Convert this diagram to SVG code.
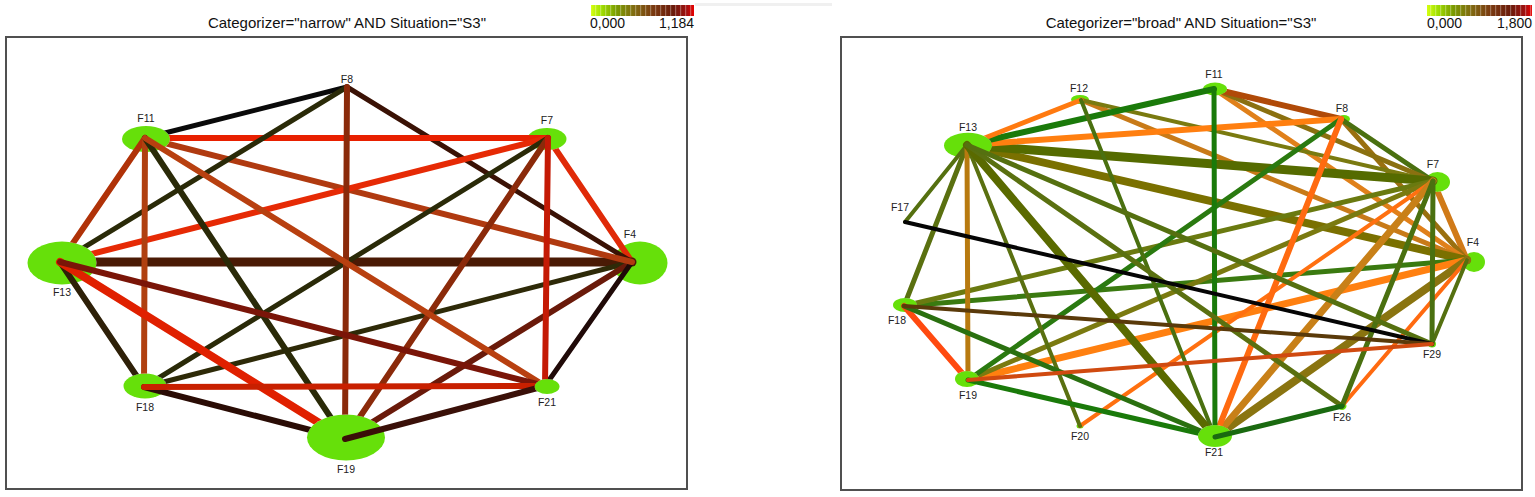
<svg xmlns="http://www.w3.org/2000/svg" width="1535" height="497" viewBox="0 0 1535 497">
<style>
.bg{fill:#ffffff}
.frame{fill:none;stroke:#505050;stroke-width:2}
.title{font-family:"Liberation Sans",Arial,sans-serif;font-size:15px;fill:#111}
.scale{font-family:"Liberation Sans",Arial,sans-serif;font-size:14px;fill:#111}
.lbl{font-family:"Liberation Sans",Arial,sans-serif;font-size:10.5px;fill:#222;text-anchor:middle}
.nd{fill:#66e00a}
.conn line{fill:none;stroke-linecap:round}
</style>
<defs>
<linearGradient id="cbar" x1="0" y1="0" x2="1" y2="0">
<stop offset="0" stop-color="#d4ff10"/>
<stop offset="0.1" stop-color="#a0e000"/>
<stop offset="0.25" stop-color="#7a9a00"/>
<stop offset="0.42" stop-color="#806a10"/>
<stop offset="0.6" stop-color="#7a3a10"/>
<stop offset="0.8" stop-color="#6a1a0a"/>
<stop offset="0.93" stop-color="#a01010"/>
<stop offset="1" stop-color="#e80000"/>
</linearGradient>
<pattern id="stripes" patternUnits="userSpaceOnUse" width="5" height="12">
<rect x="0" y="0" width="1.2" height="12" fill="#ffffff" fill-opacity="0.3"/>
</pattern>
<mask id="mL7" maskUnits="userSpaceOnUse" x="0" y="0" width="1535" height="497"><rect width="1535" height="497" fill="#fff"/><ellipse cx="547" cy="139" rx="19.5" ry="11" fill="#000"/></mask>
<mask id="mL11" maskUnits="userSpaceOnUse" x="0" y="0" width="1535" height="497"><rect width="1535" height="497" fill="#fff"/><ellipse cx="146" cy="139" rx="24" ry="13" fill="#000"/></mask>
<mask id="mL13" maskUnits="userSpaceOnUse" x="0" y="0" width="1535" height="497"><rect width="1535" height="497" fill="#fff"/><ellipse cx="62" cy="263" rx="34.5" ry="21.5" fill="#000"/></mask>
<mask id="mL18" maskUnits="userSpaceOnUse" x="0" y="0" width="1535" height="497"><rect width="1535" height="497" fill="#fff"/><ellipse cx="145" cy="386" rx="21.5" ry="12.5" fill="#000"/></mask>
<mask id="mL19" maskUnits="userSpaceOnUse" x="0" y="0" width="1535" height="497"><rect width="1535" height="497" fill="#fff"/><ellipse cx="346" cy="437.5" rx="39" ry="23" fill="#000"/></mask>
<mask id="mL21" maskUnits="userSpaceOnUse" x="0" y="0" width="1535" height="497"><rect width="1535" height="497" fill="#fff"/><ellipse cx="547" cy="386.5" rx="12.5" ry="7.5" fill="#000"/></mask>
<mask id="mR7" maskUnits="userSpaceOnUse" x="0" y="0" width="1535" height="497"><rect width="1535" height="497" fill="#fff"/><ellipse cx="1437.5" cy="182" rx="12.5" ry="10" fill="#000"/></mask>
<mask id="mR11" maskUnits="userSpaceOnUse" x="0" y="0" width="1535" height="497"><rect width="1535" height="497" fill="#fff"/><ellipse cx="1215" cy="89" rx="12" ry="6.5" fill="#000"/></mask>
<mask id="mR13" maskUnits="userSpaceOnUse" x="0" y="0" width="1535" height="497"><rect width="1535" height="497" fill="#fff"/><ellipse cx="968" cy="145.5" rx="24" ry="12.8" fill="#000"/></mask>
<mask id="mR18" maskUnits="userSpaceOnUse" x="0" y="0" width="1535" height="497"><rect width="1535" height="497" fill="#fff"/><ellipse cx="905" cy="305" rx="12" ry="7" fill="#000"/></mask>
<mask id="mR19" maskUnits="userSpaceOnUse" x="0" y="0" width="1535" height="497"><rect width="1535" height="497" fill="#fff"/><ellipse cx="967" cy="379" rx="12" ry="8" fill="#000"/></mask>
<mask id="mR21" maskUnits="userSpaceOnUse" x="0" y="0" width="1535" height="497"><rect width="1535" height="497" fill="#fff"/><ellipse cx="1215" cy="436" rx="17" ry="11" fill="#000"/></mask>
</defs>

<rect class="bg" x="0" y="0" width="1535" height="497"/>
<rect x="695" y="3" width="137" height="3" fill="#f0f0f0"/>

<!-- Left panel header -->
<g id="left-header">
<text class="title" x="347" y="28" text-anchor="middle">Categorizer="narrow" AND Situation="S3"</text>
<rect x="591" y="5" width="103" height="11" fill="url(#cbar)"/>
<rect x="591" y="5" width="103" height="11" fill="url(#stripes)"/>
<text class="scale" x="590" y="28">0,000</text>
<text class="scale" x="694" y="28" text-anchor="end">1,184</text>
</g>
<rect class="frame" x="6" y="37" width="681" height="452"/>

<!-- Right panel header -->
<g id="right-header">
<text class="title" x="1181" y="28" text-anchor="middle">Categorizer="broad" AND Situation="S3"</text>
<rect x="1427" y="5" width="105" height="11" fill="url(#cbar)"/>
<rect x="1427" y="5" width="105" height="11" fill="url(#stripes)"/>
<text class="scale" x="1427" y="28">0,000</text>
<text class="scale" x="1532" y="28" text-anchor="end">1,800</text>
</g>
<rect class="frame" x="841" y="37" width="681" height="453"/>

<!-- Left nodes -->
<g id="L-F4"><ellipse class="nd" cx="640" cy="263" rx="27.5" ry="21.5"/><text class="lbl" x="630" y="238">F4</text></g>
<g id="L-F7"><ellipse class="nd" cx="547" cy="139" rx="19.5" ry="11"/><text class="lbl" x="547" y="124">F7</text></g>
<g id="L-F8"><ellipse class="nd" cx="347" cy="87" rx="1.5" ry="1.5"/><text class="lbl" x="347" y="83">F8</text></g>
<g id="L-F11"><ellipse class="nd" cx="146" cy="139" rx="24" ry="13"/><text class="lbl" x="146" y="122">F11</text></g>
<g id="L-F13"><ellipse class="nd" cx="62" cy="263" rx="34.5" ry="21.5"/><text class="lbl" x="62" y="296">F13</text></g>
<g id="L-F18"><ellipse class="nd" cx="145" cy="386" rx="21.5" ry="12.5"/><text class="lbl" x="145" y="411">F18</text></g>
<g id="L-F19"><ellipse class="nd" cx="346" cy="437.5" rx="39" ry="23"/><text class="lbl" x="346" y="473">F19</text></g>
<g id="L-F21"><ellipse class="nd" cx="547" cy="386.5" rx="12.5" ry="7.5"/><text class="lbl" x="547" y="406">F21</text></g>

<!-- Right nodes -->
<g id="R-F4"><ellipse class="nd" cx="1474" cy="262" rx="11" ry="10"/><text class="lbl" x="1473" y="246">F4</text></g>
<g id="R-F7"><ellipse class="nd" cx="1437.5" cy="182" rx="12.5" ry="10"/><text class="lbl" x="1433" y="168">F7</text></g>
<g id="R-F8"><ellipse class="nd" cx="1344" cy="119" rx="6" ry="4"/><text class="lbl" x="1342" y="112">F8</text></g>
<g id="R-F11"><ellipse class="nd" cx="1215" cy="89" rx="12" ry="6.5"/><text class="lbl" x="1214" y="78">F11</text></g>
<g id="R-F12"><ellipse class="nd" cx="1080" cy="99.5" rx="9" ry="4.5"/><text class="lbl" x="1079" y="92">F12</text></g>
<g id="R-F13"><ellipse class="nd" cx="968" cy="145.5" rx="24" ry="12.8"/><text class="lbl" x="968" y="131">F13</text></g>
<g id="R-F17"><ellipse class="nd" cx="905" cy="222" rx="1.5" ry="1.5"/><text class="lbl" x="900" y="211">F17</text></g>
<g id="R-F18"><ellipse class="nd" cx="905" cy="305" rx="12" ry="7"/><text class="lbl" x="897" y="324">F18</text></g>
<g id="R-F19"><ellipse class="nd" cx="967" cy="379" rx="12" ry="8"/><text class="lbl" x="968" y="399">F19</text></g>
<g id="R-F20"><ellipse class="nd" cx="1080" cy="426" rx="3.5" ry="2.5"/><text class="lbl" x="1080" y="440">F20</text></g>
<g id="R-F21"><ellipse class="nd" cx="1215" cy="436" rx="17" ry="11"/><text class="lbl" x="1214" y="456">F21</text></g>
<g id="R-F26"><ellipse class="nd" cx="1342" cy="406" rx="4.5" ry="4"/><text class="lbl" x="1342" y="421">F26</text></g>
<g id="R-F29"><ellipse class="nd" cx="1432" cy="344" rx="4" ry="3.5"/><text class="lbl" x="1432" y="358">F29</text></g>

<!-- Connectors -->
<g id="connectors" class="conn">
<!-- left graph -->
<line x1="632" y1="262" x2="548" y2="138" stroke="#e02a08" stroke-width="6" mask="url(#mL7)"/>
<line x1="632" y1="262" x2="347" y2="87" stroke="#3a1205" stroke-width="5"/>
<line x1="632" y1="262" x2="60" y2="262" stroke="#4a1a05" stroke-width="9" mask="url(#mL13)"/>
<line x1="632" y1="262" x2="144" y2="387" stroke="#2e2a08" stroke-width="5" mask="url(#mL18)"/>
<line x1="632" y1="262" x2="345" y2="439" stroke="#6a1a0a" stroke-width="6" mask="url(#mL19)"/>
<line x1="632" y1="262" x2="545" y2="386" stroke="#200a08" stroke-width="5" mask="url(#mL21)"/>
<line x1="632" y1="262" x2="145" y2="138" stroke="#b03a10" stroke-width="6" mask="url(#mL11)"/>
<line x1="548" y1="138" x2="145" y2="138" stroke="#e82000" stroke-width="6" mask="url(#mL11)"/>
<line x1="548" y1="138" x2="60" y2="262" stroke="#e62a05" stroke-width="6" mask="url(#mL13)"/>
<line x1="548" y1="138" x2="144" y2="387" stroke="#2a2a08" stroke-width="5" mask="url(#mL18)"/>
<line x1="548" y1="138" x2="345" y2="439" stroke="#8b2a0a" stroke-width="6" mask="url(#mL19)"/>
<line x1="548" y1="138" x2="545" y2="386" stroke="#c41a05" stroke-width="6" mask="url(#mL21)"/>
<line x1="347" y1="87" x2="145" y2="138" stroke="#0a0a0a" stroke-width="5" mask="url(#mL11)"/>
<line x1="347" y1="87" x2="60" y2="262" stroke="#2a2a08" stroke-width="5" mask="url(#mL13)"/>
<line x1="347" y1="87" x2="345" y2="439" stroke="#8a2a0a" stroke-width="6" mask="url(#mL19)"/>
<line x1="145" y1="138" x2="60" y2="262" stroke="#b03208" stroke-width="6" mask="url(#mL13)"/>
<line x1="145" y1="138" x2="144" y2="387" stroke="#b04010" stroke-width="6" mask="url(#mL18)"/>
<line x1="145" y1="138" x2="345" y2="439" stroke="#2a2a08" stroke-width="6" mask="url(#mL19)"/>
<line x1="145" y1="138" x2="545" y2="386" stroke="#b84010" stroke-width="6" mask="url(#mL21)"/>
<line x1="60" y1="262" x2="144" y2="387" stroke="#2e2008" stroke-width="6" mask="url(#mL18)"/>
<line x1="60" y1="262" x2="345" y2="439" stroke="#e02000" stroke-width="8" mask="url(#mL19)"/>
<line x1="60" y1="262" x2="545" y2="386" stroke="#7a1508" stroke-width="6" mask="url(#mL21)"/>
<line x1="144" y1="387" x2="345" y2="439" stroke="#2a0c05" stroke-width="6" mask="url(#mL19)"/>
<line x1="144" y1="387" x2="545" y2="386" stroke="#c82000" stroke-width="6" mask="url(#mL21)"/>
<line x1="345" y1="439" x2="545" y2="386" stroke="#3a1008" stroke-width="6" mask="url(#mL21)"/>
<!-- right graph -->
<line x1="1467" y1="260" x2="1433" y2="181" stroke="#d07a18" stroke-width="6" mask="url(#mR7)"/>
<line x1="1467" y1="260" x2="1341" y2="119" stroke="#9a7010" stroke-width="5"/>
<line x1="1467" y1="260" x2="1214" y2="89" stroke="#e0801a" stroke-width="5" mask="url(#mR11)"/>
<line x1="1467" y1="260" x2="1081" y2="100" stroke="#c87a18" stroke-width="5"/>
<line x1="1467" y1="260" x2="967" y2="145" stroke="#7a7000" stroke-width="8" mask="url(#mR13)"/>
<line x1="1467" y1="260" x2="904" y2="306" stroke="#3a7a10" stroke-width="5" mask="url(#mR18)"/>
<line x1="1467" y1="260" x2="968" y2="380" stroke="#ff8010" stroke-width="7" mask="url(#mR19)"/>
<line x1="1467" y1="260" x2="1215" y2="437" stroke="#8a7410" stroke-width="8" mask="url(#mR21)"/>
<line x1="1467" y1="260" x2="1342" y2="406" stroke="#ff6a10" stroke-width="4"/>
<line x1="1467" y1="260" x2="1432" y2="344" stroke="#557010" stroke-width="4"/>
<line x1="1433" y1="181" x2="1341" y2="119" stroke="#4a7010" stroke-width="5"/>
<line x1="1433" y1="181" x2="1214" y2="89" stroke="#8a7010" stroke-width="5" mask="url(#mR11)"/>
<line x1="1433" y1="181" x2="1081" y2="100" stroke="#7a7a10" stroke-width="4"/>
<line x1="1433" y1="181" x2="967" y2="145" stroke="#556b00" stroke-width="9" mask="url(#mR13)"/>
<line x1="1433" y1="181" x2="904" y2="306" stroke="#6a7a10" stroke-width="5" mask="url(#mR18)"/>
<line x1="1433" y1="181" x2="968" y2="380" stroke="#7a7a10" stroke-width="5" mask="url(#mR19)"/>
<line x1="1433" y1="181" x2="1080" y2="426" stroke="#ff7010" stroke-width="4"/>
<line x1="1433" y1="181" x2="1215" y2="437" stroke="#c88018" stroke-width="7" mask="url(#mR21)"/>
<line x1="1433" y1="181" x2="1342" y2="406" stroke="#4a7010" stroke-width="5"/>
<line x1="1433" y1="181" x2="1432" y2="344" stroke="#4a7010" stroke-width="5"/>
<line x1="1341" y1="119" x2="1214" y2="89" stroke="#b04a08" stroke-width="6" mask="url(#mR11)"/>
<line x1="1341" y1="119" x2="967" y2="145" stroke="#ff7f10" stroke-width="6" mask="url(#mR13)"/>
<line x1="1341" y1="119" x2="968" y2="380" stroke="#2a7a10" stroke-width="5" mask="url(#mR19)"/>
<line x1="1341" y1="119" x2="1215" y2="437" stroke="#ff6a10" stroke-width="6" mask="url(#mR21)"/>
<line x1="1214" y1="89" x2="967" y2="145" stroke="#1a7a0a" stroke-width="6" mask="url(#mR13)"/>
<line x1="1214" y1="89" x2="1215" y2="437" stroke="#1a7a0a" stroke-width="5" mask="url(#mR21)"/>
<line x1="1081" y1="100" x2="967" y2="145" stroke="#ff7a10" stroke-width="5" mask="url(#mR13)"/>
<line x1="1081" y1="100" x2="1215" y2="437" stroke="#4a7010" stroke-width="4" mask="url(#mR21)"/>
<line x1="967" y1="145" x2="905" y2="222" stroke="#557010" stroke-width="4"/>
<line x1="967" y1="145" x2="904" y2="306" stroke="#5a7010" stroke-width="5" mask="url(#mR18)"/>
<line x1="967" y1="145" x2="968" y2="380" stroke="#b87a10" stroke-width="5" mask="url(#mR19)"/>
<line x1="967" y1="145" x2="1080" y2="426" stroke="#5a7010" stroke-width="4"/>
<line x1="967" y1="145" x2="1215" y2="437" stroke="#5a6a00" stroke-width="8" mask="url(#mR21)"/>
<line x1="967" y1="145" x2="1342" y2="406" stroke="#5a7010" stroke-width="5"/>
<line x1="967" y1="145" x2="1432" y2="344" stroke="#557010" stroke-width="5"/>
<line x1="905" y1="222" x2="1432" y2="344" stroke="#050505" stroke-width="4"/>
<line x1="904" y1="306" x2="968" y2="380" stroke="#ff4a10" stroke-width="6" mask="url(#mR19)"/>
<line x1="904" y1="306" x2="1215" y2="437" stroke="#2a7010" stroke-width="5" mask="url(#mR21)"/>
<line x1="904" y1="306" x2="1432" y2="344" stroke="#5a3a0a" stroke-width="4"/>
<line x1="968" y1="380" x2="1215" y2="437" stroke="#1a7a0a" stroke-width="5" mask="url(#mR21)"/>
<line x1="968" y1="380" x2="1432" y2="344" stroke="#d04a10" stroke-width="4"/>
<line x1="1215" y1="437" x2="1342" y2="406" stroke="#1a6a10" stroke-width="5"/>
</g>
</svg>
